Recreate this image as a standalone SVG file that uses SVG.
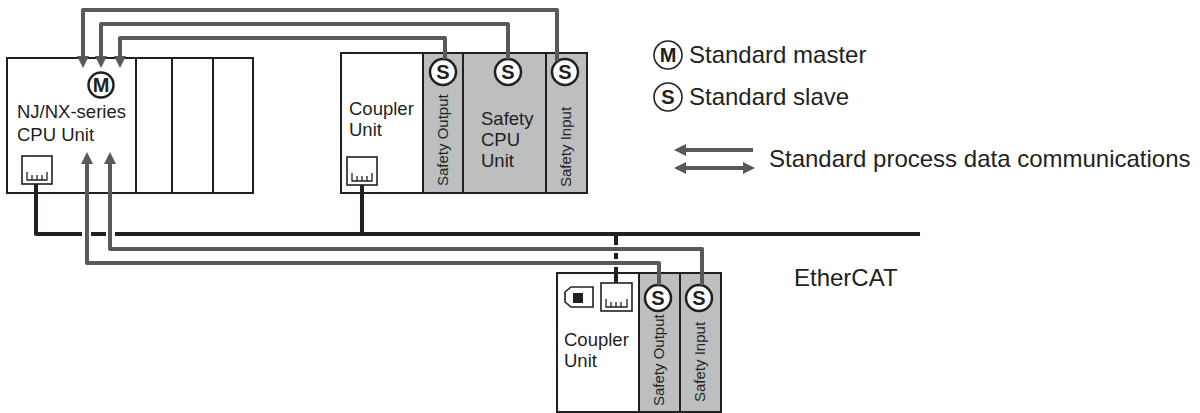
<svg xmlns="http://www.w3.org/2000/svg" width="1200" height="413" viewBox="0 0 1200 413">
<defs>
<style>
.box{fill:#ffffff;stroke:#231f20;stroke-width:2}
.safe{fill:#bcbec0;stroke:#231f20;stroke-width:2}
.lbl{font-family:"Liberation Sans",Arial,sans-serif;font-size:18.5px;fill:#231f20}
.rot{font-family:"Liberation Sans",Arial,sans-serif;font-size:15px;fill:#231f20}
.leg{font-family:"Liberation Sans",Arial,sans-serif;font-size:24px;fill:#231f20}
.sym{font-family:"Liberation Sans",Arial,sans-serif;font-size:20px;font-weight:bold;fill:#231f20;text-anchor:middle}
.circ{fill:#ffffff;stroke:#231f20;stroke-width:2.5}
.lcirc{fill:#ffffff;stroke:#231f20;stroke-width:1.6}
.gray{fill:none;stroke:#58595b;stroke-width:4;stroke-linejoin:round}
.blk{fill:none;stroke:#231f20;stroke-width:4;stroke-linejoin:round}
.port{fill:#ffffff;stroke:#231f20;stroke-width:1.6}
.pins{fill:none;stroke:#231f20;stroke-width:1.3}
</style>
<marker id="ah" markerUnits="userSpaceOnUse" markerWidth="12" markerHeight="12" refX="0" refY="6" orient="auto-start-reverse">
<path d="M0,0 L12,6 L0,12 Z" fill="#58595b"/>
</marker>
</defs>
<rect width="1200" height="413" fill="#ffffff"/>

<g id="cpu-unit">
<rect class="box" x="7" y="58" width="129" height="135"/>
<rect class="box" x="136" y="58" width="36" height="135"/>
<rect class="box" x="172" y="58" width="41" height="135"/>
<rect class="box" x="213" y="58" width="40" height="135"/>
<circle class="circ" cx="101" cy="85" r="12.5"/>
<text class="sym" x="101" y="92">M</text>
<text class="lbl" x="17" y="118">NJ/NX-series</text>
<text class="lbl" x="17" y="141">CPU Unit</text>
<rect class="port" x="22" y="156" width="30" height="28"/>
<path class="pins" d="M27,172 V180 H47 V172 M32,175 V180 M37,175 V180 M42,175 V180"/>
</g>

<g id="coupler-top">
<rect class="box" x="341" y="53" width="82" height="140"/>
<text class="lbl" x="349" y="115">Coupler</text>
<text class="lbl" x="349" y="136">Unit</text>
<rect class="port" x="347" y="157" width="30" height="28"/>
<path class="pins" d="M352,173 V181 H372 V173 M357,176 V181 M362,176 V181 M367,176 V181"/>
</g>

<g id="safety-output-top">
<rect class="safe" x="423" y="53" width="40" height="140"/>
<circle class="circ" cx="443" cy="72" r="13"/>
<text class="sym" x="443" y="79">S</text>
<text class="rot" transform="translate(448,186) rotate(-90)">Safety Output</text>
</g>

<g id="safety-cpu">
<rect class="safe" x="463" y="53" width="83" height="140"/>
<circle class="circ" cx="508" cy="72" r="13"/>
<text class="sym" x="508" y="79">S</text>
<text class="lbl" x="481" y="125">Safety</text>
<text class="lbl" x="481" y="146">CPU</text>
<text class="lbl" x="481" y="167">Unit</text>
</g>

<g id="safety-input-top">
<rect class="safe" x="546" y="53" width="41" height="140"/>
<circle class="circ" cx="565" cy="72" r="13"/>
<text class="sym" x="565" y="79">S</text>
<text class="rot" transform="translate(571,187) rotate(-90)">Safety Input</text>
</g>

<g id="coupler-bottom">
<rect class="box" x="557" y="273" width="82" height="139"/>
<path d="M571,287 H593 V307 H571 L565,302 V292 Z" fill="#ffffff" stroke="#231f20" stroke-width="1.6"/>
<rect x="573" y="293" width="10" height="10" fill="#231f20"/>
<rect class="port" x="601" y="283" width="31" height="28"/>
<path class="pins" d="M606,299 V307 H627 V299 M611,302 V307 M616,302 V307 M621,302 V307"/>
<text class="lbl" x="564" y="346">Coupler</text>
<text class="lbl" x="564" y="367">Unit</text>
</g>

<g id="safety-output-bottom">
<rect class="safe" x="639" y="273" width="41" height="139"/>
<circle class="circ" cx="658" cy="298" r="13"/>
<text class="sym" x="658" y="305">S</text>
<text class="rot" transform="translate(664,406) rotate(-90)">Safety Output</text>
</g>

<g id="safety-input-bottom">
<rect class="safe" x="680" y="273" width="41" height="139"/>
<circle class="circ" cx="699" cy="298" r="13"/>
<text class="sym" x="699" y="305">S</text>
<text class="rot" transform="translate(705,402) rotate(-90)">Safety Input</text>
</g>

<g id="connectors">
<path class="blk" d="M36,184 V234 H82"/>
<path class="blk" d="M91,234 H106"/>
<path class="blk" d="M115,234 H920"/>
<path class="blk" d="M362,185 V234"/>
<path class="blk" d="M616,234 V245 M616,253 V259 M616,267 V283"/>
<path class="gray" d="M557,61 V10 H83 V56" marker-end="url(#ah)"/>
<path class="gray" d="M508,59 V24 H101 V56" marker-end="url(#ah)"/>
<path class="gray" d="M445,59 V38 H120 V56" marker-end="url(#ah)"/>
<path class="gray" d="M702,285 V249 H110 V164" marker-end="url(#ah)"/>
<path class="gray" d="M659,285 V263 H87 V164" marker-end="url(#ah)"/>
</g>

<g id="legend">
<circle class="lcirc" cx="668" cy="55" r="14"/>
<text class="sym" x="668" y="62">M</text>
<text class="leg" x="689" y="63">Standard master</text>
<circle class="lcirc" cx="668" cy="97" r="14"/>
<text class="sym" x="668" y="104">S</text>
<text class="leg" x="689" y="105">Standard slave</text>
<path class="gray" d="M753,150 H686" marker-end="url(#ah)"/>
<path class="gray" d="M686,168 H743" marker-start="url(#ah)" marker-end="url(#ah)"/>
<text class="leg" x="769" y="167">Standard process data communications</text>
</g>

<g id="ethercat-label">
<text class="leg" x="794" y="286">EtherCAT</text>
</g>
</svg>
